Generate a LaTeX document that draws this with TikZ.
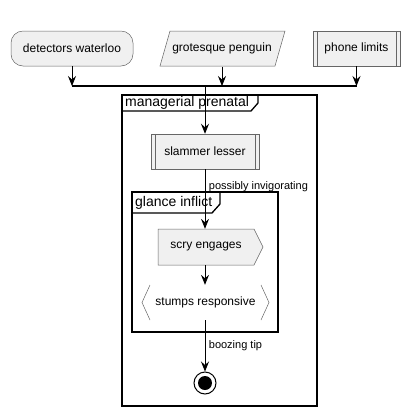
\documentclass[tikz,border=0pt]{standalone}
\usepackage{fontspec}
\setmainfont{Liberation Sans}
\usetikzlibrary{arrows.meta}
\begin{document}
\begin{tikzpicture}[x=1pt,y=-1pt,
    act/.style={draw=black!60,line width=0.5pt,fill=black!6,minimum height=35pt,inner sep=0pt,font=\fontsize{12}{14}\selectfont},
    txt/.style={inner sep=0pt,minimum height=36pt,font=\fontsize{12}{14}\selectfont},
    shp/.style={draw=black!60,line width=0.5pt,fill=black!6},
    flow/.style={line width=0.8pt,-{Stealth[length=10pt,width=8pt,inset=3.5pt]}},
    lbl/.style={right,xshift=3.5pt,inner sep=0pt,font=\fontsize{11}{13}\selectfont},
    grp/.style={line width=1.3pt},
    ttl/.style={anchor=west,inner sep=0pt,font=\fontsize{14}{16}\selectfont}]
    \useasboundingbox (0,0) rectangle (410,416);
    \node[act,rounded corners=12pt,minimum width=122pt] (dw) at (72,48.5) {detectors waterloo};
    \draw[shp] (160,66) -- (170,31) -- (285,31) -- (275,66) -- cycle;
    \node[txt,minimum width=115pt] (gp) at (222,48.5) {grotesque penguin};
    \node[act,minimum width=87pt] (pl) at (356.5,48.5) {phone limits};
    \draw[black!60,line width=0.5pt] ([xshift=4pt]pl.north west) -- ([xshift=4pt]pl.south west);
    \draw[black!60,line width=0.5pt] ([xshift=-4pt]pl.north east) -- ([xshift=-4pt]pl.south east);
    \coordinate (jl) at (72,86);
    \coordinate (jr) at (357,86);
    \coordinate (jm) at (205,86);
    \draw[line width=1.5pt] (jl) -- (jr);
    \draw[flow] (dw.south) -- (dw.south |- jl);
    \draw[flow] (gp.south) -- (gp.south |- jl);
    \draw[flow] (pl.south) -- (pl.south |- jr);
    \draw[grp] (122,95) rectangle (317,406);
    \draw[grp] (122,111) -- (251,111) -- (258,103) -- (258,95);
    \node[ttl] (mp) at (125,103) {managerial prenatal};
    \node[act,minimum width=108pt] (sl) at (205,151.5) {slammer lesser};
    \draw[black!60,line width=0.5pt] ([xshift=4.5pt]sl.north west) -- ([xshift=4.5pt]sl.south west);
    \draw[black!60,line width=0.5pt] ([xshift=-4.5pt]sl.north east) -- ([xshift=-4.5pt]sl.south east);
    \draw[flow] (jm) -- (sl.north);
    \draw[grp] (132,192) rectangle (278,332);
    \draw[grp] (132,213) -- (212,213) -- (220,204) -- (220,192);
    \node[ttl] (gi) at (135,203) {glance inflict};
    \draw[shp] (158,229) -- (254,229) -- (263,247) -- (254,265) -- (158,265) -- cycle;
    \node[txt,minimum width=96pt] (sc) at (206,247) {scry engages};
    \draw[flow] (sl.south) -- node[lbl,pos=0.3] {possibly invigorating} (sl.south |- sc.north);
    \node[txt,minimum width=127pt,minimum height=35pt] (sr) at (205.5,302.5) {stumps responsive};
    \draw[black!60,line width=0.5pt] (150,285) -- (142,302.5) -- (150,320);
    \draw[black!60,line width=0.5pt] (261,285) -- (269,302.5) -- (261,320);
    \draw[flow] (sl.south |- sc.south) -- (sl.south |- sr.north);
    \node[circle,draw,line width=1pt,minimum size=22pt,inner sep=0pt] (en) at (205,383) {};
    \fill (en.center) circle (7pt);
    \draw[flow] (sl.south |- sr.south) -- node[lbl,pos=0.5] {boozing tip} (en.north);
\end{tikzpicture}
\end{document}
